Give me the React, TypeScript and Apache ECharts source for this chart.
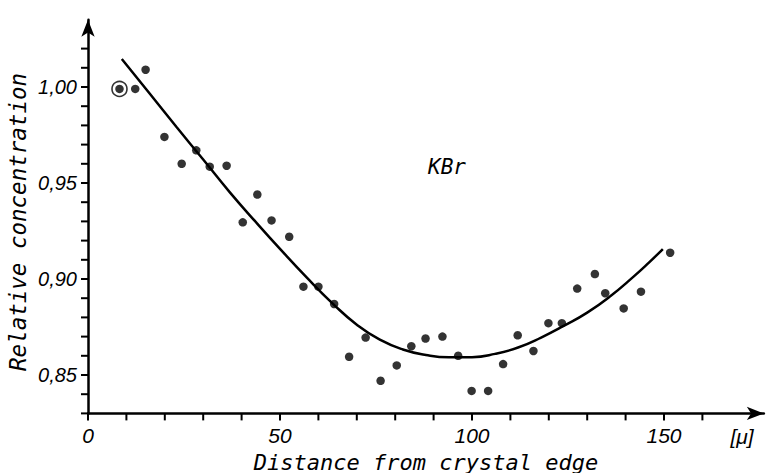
import React, { useEffect, useRef } from "react";
import * as echarts from "echarts";

// Measured points: [distance (μ), relative concentration]
const measuredPoints: [number, number][] = [
  [8.2, 0.999], [12.3, 0.999], [15.0, 1.009], [19.9, 0.974], [24.4, 0.960],
  [28.2, 0.967], [31.7, 0.9585], [36.1, 0.959], [40.3, 0.9295], [44.1, 0.944],
  [47.8, 0.9305], [52.4, 0.922], [56.1, 0.896], [60.0, 0.896], [64.1, 0.887],
  [68.0, 0.8595], [72.3, 0.8695], [76.2, 0.847], [80.4, 0.855], [84.2, 0.865],
  [87.9, 0.869], [92.3, 0.870], [96.4, 0.860], [99.9, 0.8417], [104.2, 0.8417],
  [108.1, 0.8557], [111.9, 0.8707], [116.0, 0.8625], [119.9, 0.877], [123.4, 0.877],
  [127.4, 0.895], [132.0, 0.9026], [134.7, 0.8926], [139.5, 0.8847], [144.0, 0.8934],
  [151.6, 0.9137],
];

// Circled (reference) point
const circledPoint: [number, number][] = [[8.2, 0.999]];

// Fitted curve
const fittedCurve: [number, number][] = [
  [8.8, 1.0146], [16, 0.9967], [23, 0.9793], [30, 0.9622], [37, 0.945],
  [44, 0.929], [50, 0.9157], [57, 0.9007], [64, 0.8867], [70, 0.8762],
  [76, 0.8684], [82, 0.8633], [88, 0.8604], [94, 0.8592], [100, 0.8593],
  [106, 0.861], [112, 0.8643], [118, 0.8695], [124, 0.8757], [130, 0.8825],
  [136, 0.891], [142, 0.9011], [146, 0.9084], [149.7, 0.9156],
];

const xTickValues = [0, 10, 20, 30, 40, 50, 60, 70, 80, 90, 100, 110, 120, 130, 140, 150, 160];
const xLabelValues = [0, 50, 100, 150];
const yTickValues = [
  0.83, 0.84, 0.85, 0.86, 0.87, 0.88, 0.89, 0.9, 0.91, 0.92,
  0.93, 0.94, 0.95, 0.96, 0.97, 0.98, 0.99, 1.0, 1.01, 1.02,
];
const yLabelValues = [0.85, 0.9, 0.95, 1.0];

const labelFont = "'Liberation Sans', Arial, sans-serif";
const monoFont = "'DejaVu Sans Mono', monospace";

const X_MIN = 0;
const X_MAX = 176;
const Y_MIN = 0.83;
const Y_MAX = 1.035;
const TICK_LEN = 7;

export default function App() {
  const ref = useRef<HTMLDivElement>(null);
  useEffect(() => {
    if (!ref.current) return;
    const chart = echarts.init(ref.current, undefined, { renderer: "svg" });

    const textElements = [
      {
        type: "text",
        id: "yname",
        x: 18,
        y: 222,
        rotation: Math.PI / 2,
        style: {
          text: "Relative concentration",
          align: "center",
          verticalAlign: "middle",
          fill: "#000",
          font: `italic 22.5px ${monoFont}`,
        },
      },
      {
        type: "text",
        id: "xname",
        x: 426,
        y: 462,
        style: {
          text: "Distance from crystal edge",
          align: "center",
          verticalAlign: "middle",
          fill: "#000",
          font: `italic 22px ${monoFont}`,
        },
      },
      {
        type: "text",
        id: "unit",
        x: 742,
        y: 436,
        style: {
          text: "[μ]",
          align: "center",
          verticalAlign: "middle",
          fill: "#000",
          font: `italic 21px ${labelFont}`,
        },
      },
      {
        type: "text",
        id: "kbr",
        x: 447,
        y: 167,
        style: {
          text: "KBr",
          align: "center",
          verticalAlign: "middle",
          fill: "#000",
          font: `italic 21px ${monoFont}`,
        },
      },
    ];

    chart.setOption({
      animation: false,
      backgroundColor: "#ffffff",
      grid: { left: 88, right: 9.16, top: 19.8, bottom: 59.6, containLabel: false },
      xAxis: {
        type: "value",
        min: X_MIN,
        max: X_MAX,
        splitLine: { show: false },
        axisLine: {
          show: true,
          onZero: false,
          lineStyle: { color: "#000", width: 2.5 },
          symbol: ["none", "arrow"],
          symbolSize: [10, 17],
        },
        axisTick: { show: false },
        axisLabel: {
          show: true,
          customValues: xLabelValues,
          margin: 12,
          color: "#000",
          fontSize: 21,
          fontStyle: "italic",
          fontFamily: labelFont,
        },
      },
      yAxis: {
        type: "value",
        min: Y_MIN,
        max: Y_MAX,
        splitLine: { show: false },
        axisLine: {
          show: true,
          onZero: false,
          lineStyle: { color: "#000", width: 2.5 },
          symbol: ["none", "arrow"],
          symbolSize: [10, 17],
        },
        axisTick: { show: false },
        axisLabel: {
          show: true,
          customValues: yLabelValues,
          margin: 11,
          color: "#000",
          fontSize: 20,
          fontStyle: "italic",
          fontFamily: labelFont,
          formatter: (v: number) => v.toFixed(2).replace(".", ","),
        },
      },
      graphic: { elements: textElements },
      series: [
        {
          type: "line",
          data: fittedCurve,
          smooth: 0.5,
          showSymbol: false,
          lineStyle: { color: "#000", width: 2.5 },
          z: 2,
        },
        {
          type: "scatter",
          data: circledPoint,
          symbol: "circle",
          symbolSize: 15,
          itemStyle: { color: "rgba(0,0,0,0)", borderColor: "#000", borderWidth: 1.6 },
          z: 3,
        },
        {
          type: "scatter",
          data: measuredPoints,
          symbol: "circle",
          symbolSize: 8.5,
          itemStyle: { color: "#000" },
          z: 4,
        },
      ],
    });

    // Tick marks placed through the chart's own axis scales
    const tickStyle = { stroke: "#000", lineWidth: 2 };
    const xTicks = xTickValues.map((v, i) => {
      const p = chart.convertToPixel({ gridIndex: 0 }, [v, Y_MIN]) as number[];
      return {
        type: "line",
        id: "xt" + i,
        shape: { x1: p[0], y1: p[1], x2: p[0], y2: p[1] + TICK_LEN },
        style: tickStyle,
        z: 10,
      };
    });
    const yTicks = yTickValues.map((v, i) => {
      const p = chart.convertToPixel({ gridIndex: 0 }, [X_MIN, v]) as number[];
      return {
        type: "line",
        id: "yt" + i,
        shape: { x1: p[0], y1: p[1], x2: p[0] - TICK_LEN, y2: p[1] },
        style: tickStyle,
        z: 10,
      };
    });
    chart.setOption({ graphic: { elements: [...textElements, ...xTicks, ...yTicks] } });

    return () => chart.dispose();
  }, []);
  return (
    <div
      ref={ref}
      style={{ position: "fixed", left: 0, top: 0, width: 773, height: 473, background: "#fff" }}
    />
  );
}
